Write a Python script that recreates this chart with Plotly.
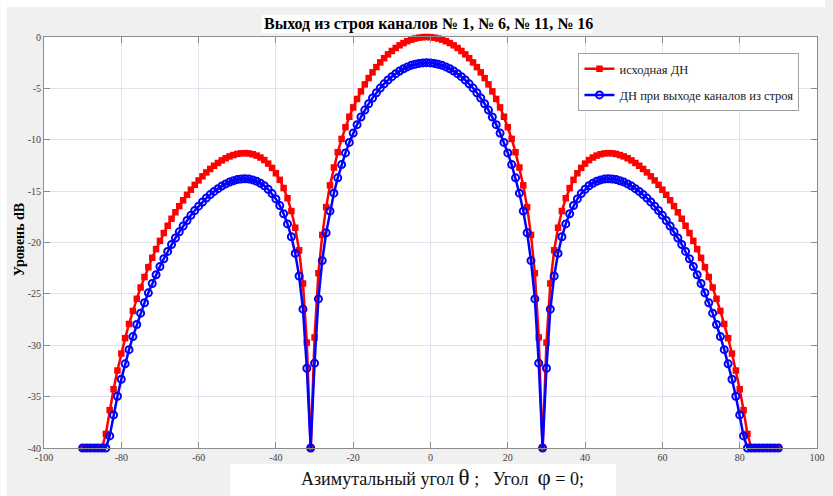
import plotly.graph_objects as go

# Azimuth angle theta, degrees
theta = list(range(-90, 91))

# original pattern (dB)
original_db = [
    -40, -40, -40, -40, -40, -40, -38.63, -36.32, -34.28, -32.46,
    -30.81, -29.31, -27.93, -26.66, -25.48, -24.38, -23.36, -22.40, -21.49, -20.64,
    -19.84, -19.08, -18.37, -17.69, -17.06, -16.46, -15.89, -15.36, -14.86, -14.39,
    -13.96, -13.56, -13.18, -12.84, -12.53, -12.26, -12.01, -11.80, -11.62, -11.49,
    -11.38, -11.32, -11.30, -11.33, -11.41, -11.54, -11.73, -11.98, -12.32, -12.74,
    -13.26, -13.90, -14.70, -15.69, -16.94, -18.56, -20.76, -23.99, -29.74, -40,
    -29.24, -22.99, -19.26, -16.56, -14.44, -12.70, -11.21, -9.92, -8.78, -7.76,
    -6.85, -6.03, -5.29, -4.61, -4.00, -3.44, -2.93, -2.47, -2.06, -1.69,
    -1.36, -1.07, -0.81, -0.59, -0.41, -0.26, -0.15, -0.07, -0.02, 0.00,
    -0.02, -0.07, -0.15, -0.26, -0.41, -0.59, -0.81, -1.07, -1.36, -1.69,
    -2.06, -2.47, -2.93, -3.44, -4.00, -4.61, -5.29, -6.03, -6.85, -7.76,
    -8.78, -9.92, -11.21, -12.70, -14.44, -16.56, -19.26, -22.99, -29.24, -40,
    -29.74, -23.99, -20.76, -18.56, -16.94, -15.69, -14.70, -13.90, -13.26, -12.74,
    -12.32, -11.98, -11.73, -11.54, -11.41, -11.33, -11.30, -11.32, -11.38, -11.49,
    -11.62, -11.80, -12.01, -12.26, -12.53, -12.84, -13.18, -13.56, -13.96, -14.39,
    -14.86, -15.36, -15.89, -16.46, -17.06, -17.69, -18.37, -19.08, -19.84, -20.64,
    -21.49, -22.40, -23.36, -24.38, -25.48, -26.66, -27.93, -29.31, -30.81, -32.46,
    -34.28, -36.32, -38.63, -40, -40, -40, -40, -40, -40, -40, -40,
]

# pattern with channels 1, 6, 11, 16 failed (dB)
failed_db = [
    -40, -40, -40, -40, -40, -40, -40, -38.82, -36.78, -34.96,
    -33.31, -31.81, -30.43, -29.16, -27.98, -26.88, -25.86, -24.90, -23.99, -23.14,
    -22.34, -21.58, -20.87, -20.19, -19.56, -18.96, -18.39, -17.86, -17.36, -16.89,
    -16.46, -16.06, -15.68, -15.34, -15.03, -14.76, -14.51, -14.30, -14.12, -13.99,
    -13.88, -13.82, -13.80, -13.83, -13.91, -14.04, -14.23, -14.48, -14.82, -15.24,
    -15.76, -16.40, -17.20, -18.19, -19.44, -21.06, -23.26, -26.49, -32.24, -40,
    -31.74, -25.49, -21.76, -19.06, -16.94, -15.20, -13.71, -12.42, -11.28, -10.26,
    -9.35, -8.53, -7.79, -7.11, -6.50, -5.94, -5.43, -4.97, -4.56, -4.19,
    -3.86, -3.57, -3.31, -3.09, -2.91, -2.76, -2.65, -2.57, -2.52, -2.50,
    -2.52, -2.57, -2.65, -2.76, -2.91, -3.09, -3.31, -3.57, -3.86, -4.19,
    -4.56, -4.97, -5.43, -5.94, -6.50, -7.11, -7.79, -8.53, -9.35, -10.26,
    -11.28, -12.42, -13.71, -15.20, -16.94, -19.06, -21.76, -25.49, -31.74, -40,
    -32.24, -26.49, -23.26, -21.06, -19.44, -18.19, -17.20, -16.40, -15.76, -15.24,
    -14.82, -14.48, -14.23, -14.04, -13.91, -13.83, -13.80, -13.82, -13.88, -13.99,
    -14.12, -14.30, -14.51, -14.76, -15.03, -15.34, -15.68, -16.06, -16.46, -16.89,
    -17.36, -17.86, -18.39, -18.96, -19.56, -20.19, -20.87, -21.58, -22.34, -23.14,
    -23.99, -24.90, -25.86, -26.88, -27.98, -29.16, -30.43, -31.81, -33.31, -34.96,
    -36.78, -38.82, -40, -40, -40, -40, -40, -40, -40, -40, -40,
]

series_names = ["исходная ДН", "ДН при выходе каналов из строя"]
x_ticks = [-100, -80, -60, -40, -20, 0, 20, 40, 60, 80, 100]
x_ticktext = ["-100", "-80", "-60", "-40", "-20", "0", "20", "40", "60", "80", "100"]
y_ticks = [0, -5, -10, -15, -20, -25, -30, -35, -40]
y_ticktext = ["0", "-5", "-10", "-15", "-20", "-25", "-30", "-35", "-40"]

title_text = "Выход из строя каналов № 1, № 6, № 11, № 16"
ylabel_text = "Уровень dB"
xlabel_text = ("<span style='font-size:18px'>Азимутальный угол </span>θ"
               "<span style='font-size:18px'> ;   Угол  </span>φ"
               "<span style='font-size:18px'> = 0;</span>")

W, H = 833, 496
L, R, T, B = 44, 8, 37, 48
PW, PH = W - L - R, H - T - B


def px(xp):
    return (xp - L) / PW


def py(yp):
    return (H - B - yp) / PH


SERIF = "Liberation Serif, Times New Roman, serif"

fig = go.Figure()
fig.add_trace(go.Scatter(
    x=theta, y=original_db, name=series_names[0], legendgroup="a",
    mode="lines+markers", cliponaxis=False,
    line=dict(color="#ff0000", width=2.5),
    marker=dict(symbol="square", size=6.5, color="#ff0000"),
))
fig.add_trace(go.Scatter(
    x=theta, y=failed_db, name=series_names[1], legendgroup="b",
    mode="lines+markers", cliponaxis=False,
    line=dict(color="#0000ff", width=2.5),
    marker=dict(symbol="circle-open", size=7, color="#0000ff",
                line=dict(width=2, color="#0000ff")),
))

axis_common = dict(
    showgrid=True, gridcolor="#eadff0", gridwidth=1,
    showline=True, linecolor="#8c8c8c", linewidth=1, mirror="ticks",
    ticks="inside", ticklen=6, tickcolor="#8c8c8c",
    tickfont=dict(family=SERIF, size=10, color="#404040"),
    zeroline=False,
)

fig.update_layout(
    width=W, height=H, autosize=False,
    margin=dict(l=L, r=R, t=T, b=B, pad=0),
    paper_bgcolor="#f0f0f0", plot_bgcolor="#ffffff",
    xaxis=dict(range=[-100, 100], tickvals=x_ticks, ticktext=x_ticktext, **axis_common),
    yaxis=dict(range=[-40, 0], tickvals=y_ticks, ticktext=y_ticktext, **axis_common),
    showlegend=True,
    legend=dict(
        x=px(584), y=py(53), xanchor="left", yanchor="top",
        bgcolor="#ffffff", bordercolor="#a0a0a0", borderwidth=1,
        font=dict(family=SERIF, size=12.5, color="#222222"),
        tracegroupgap=7, traceorder="grouped", itemwidth=30,
    ),
    shapes=[
        dict(type="rect", xref="paper", yref="paper", layer="above",
             x0=px(0), x1=px(W), y0=py(7), y1=py(0),
             fillcolor="#ffffff", line=dict(width=0)),
        dict(type="rect", xref="paper", yref="paper", layer="above",
             x0=px(0), x1=px(6), y0=py(H), y1=py(0),
             fillcolor="#ffffff", line=dict(width=0)),
        dict(type="rect", xref="paper", yref="paper", layer="above",
             x0=px(264), x1=px(598), y0=py(33), y1=py(15),
             fillcolor="#ffffff", line=dict(width=0)),
        dict(type="rect", xref="paper", yref="paper", layer="above",
             x0=px(232), x1=px(622), y0=py(H), y1=py(464),
             fillcolor="#ffffff", line=dict(width=0)),
    ],
    annotations=[
        dict(text="<b>" + title_text + "</b>", xref="paper", yref="paper",
             x=px(432), y=py(24), xanchor="center", yanchor="middle",
             showarrow=False, font=dict(family=SERIF, size=16, color="#000000")),
        dict(text="<b>" + ylabel_text + "</b>", xref="paper", yref="paper",
             x=px(20), y=py(240), xanchor="center", yanchor="middle", textangle=-90,
             showarrow=False, font=dict(family=SERIF, size=14, color="#000000")),
        dict(text=xlabel_text, xref="paper", yref="paper",
             x=px(447), y=py(478), xanchor="center", yanchor="middle",
             showarrow=False, font=dict(family=SERIF, size=23, color="#111111")),
    ],
)

fig.write_html("out.html", config={"displayModeBar": False},
               post_script="document.body.style.margin='0px';")
